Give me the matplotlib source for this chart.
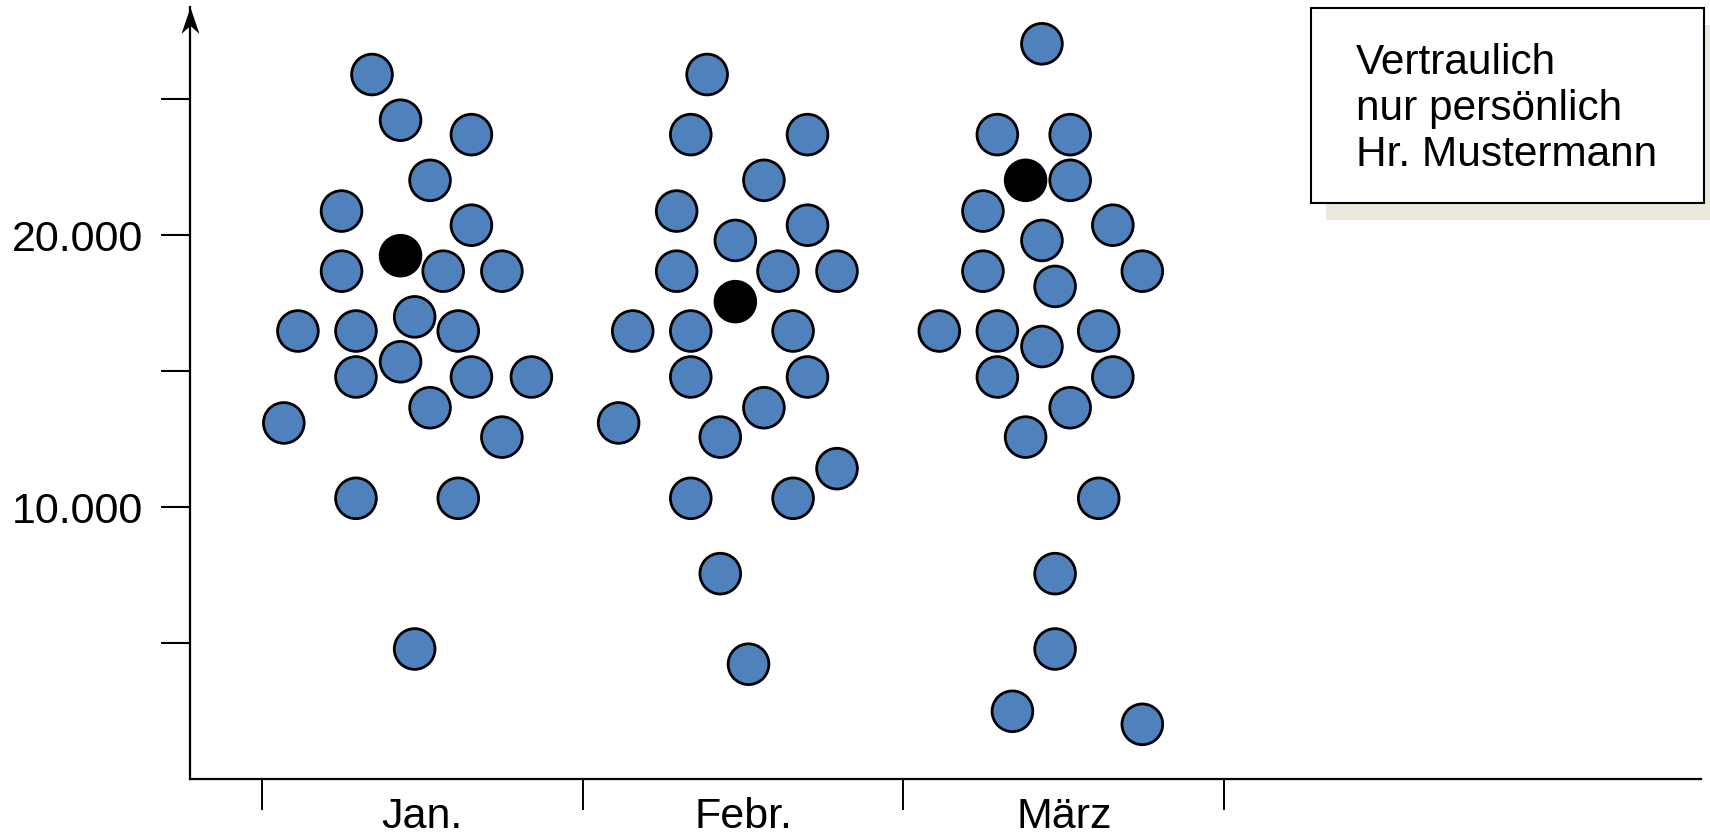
import matplotlib
matplotlib.use("Agg")
import matplotlib.pyplot as plt
from matplotlib.patches import Rectangle
from matplotlib.path import Path

plt.rcParams['font.family'] = ['Liberation Sans', 'DejaVu Sans']

months = ['Jan.', 'Febr.', 'März']

jan_values = [25900, 24220, 23690, 22010, 20880, 20360, 19240, 18670, 18670, 18670,
              16470, 16470, 16990, 16470, 15340, 14780, 14780, 14780, 13650, 13090,
              12570, 10320, 10320, 4780]
jan_offsets = [-0.157, -0.068, 0.153, 0.024, -0.252, 0.153, -0.068, -0.252, 0.065, 0.248,
               -0.388, -0.207, -0.024, 0.112, -0.068, -0.207, 0.153, 0.340, 0.024, -0.432,
               0.248, -0.207, 0.112, -0.024]
jan_highlight = 6

feb_values = [25900, 23690, 23690, 22010, 20880, 20360, 19800, 18670, 18670, 18670,
              17550, 16470, 16470, 16470, 14780, 14780, 13650, 13090, 12570, 11410,
              10320, 10320, 7550, 4220]
feb_offsets = [-0.112, -0.163, 0.201, 0.065, -0.207, 0.201, -0.024, -0.207, 0.109, 0.293,
               -0.024, -0.344, -0.163, 0.156, -0.163, 0.201, 0.065, -0.388, -0.071, 0.293,
               -0.163, 0.156, -0.071, 0.017]
feb_highlight = 10

mar_values = [27030, 23690, 23690, 22010, 22010, 20880, 20360, 19800, 18670, 18670,
              18110, 16470, 16470, 16470, 15900, 14780, 14780, 13650, 12570, 10320,
              7550, 4780, 2490, 2010]
mar_offsets = [-0.068, -0.207, 0.020, -0.119, 0.020, -0.252, 0.153, -0.068, -0.252, 0.245,
               -0.027, -0.388, -0.207, 0.109, -0.068, -0.207, 0.153, 0.020, -0.119, 0.109,
               -0.027, -0.027, -0.160, 0.245]
mar_highlight = 3

y_ticks = [5000, 10000, 15000, 20000, 25000]
y_ticklabels = ['', '10.000', '', '20.000', '']

note_lines = ['Vertraulich', 'nur persönlich', 'Hr. Mustermann']

BLUE = '#4f81bd'

fig = plt.figure(figsize=(17.10, 8.37), dpi=100)
W, H = 1710, 837
ax = fig.add_axes([190 / W, 1 - 780 / H, (1701 - 190) / W, (780 - 8) / H])

series = [(jan_values, jan_offsets, jan_highlight),
          (feb_values, feb_offsets, feb_highlight),
          (mar_values, mar_offsets, mar_highlight)]
for i, (vals, offs, hi) in enumerate(series):
    pos = i + 1
    xs = [pos + o for o in offs]
    colors = ['black' if k == hi else BLUE for k in range(len(vals))]
    ax.scatter(xs, vals, s=860, c=colors, edgecolors='black', linewidths=2.0,
               zorder=3, clip_on=False)

ax.set_xlim(0.5 - (262 - 190) / 320.7, 0.5 + (1701 - 262) / 320.7)
ax.set_ylim(0, 772 / 136 * 5000)

for side in ['top', 'right']:
    ax.spines[side].set_visible(False)
ax.spines['bottom'].set_linewidth(1.6)
ax.spines['left'].set_linewidth(1.6)

# arrow head (stealth shape) on top of the y-axis
head = Path([(0, 0), (-0.34, -1), (0, -0.7), (0.34, -1), (0, 0)],
            [Path.MOVETO, Path.LINETO, Path.LINETO, Path.LINETO, Path.CLOSEPOLY])
ax.plot([0], [1], transform=ax.transAxes, marker=head, markersize=38,
        color='black', markeredgewidth=0, clip_on=False, zorder=5)

ax.set_yticks(y_ticks)
ax.set_yticklabels(y_ticklabels)
ax.tick_params(axis='y', length=21, width=1.5, pad=13, labelsize=31)

ax.set_xticks([1, 2, 3])
ax.set_xticklabels(months)
ax.set_xticks([0.5, 1.5, 2.5, 3.5], minor=True)
ax.tick_params(axis='x', which='major', length=0, pad=12, labelsize=31)
ax.tick_params(axis='x', which='minor', length=22.5, width=1.4)

# note box with shadow
fig.patches.append(Rectangle((1326 / W, 1 - 221 / H), 393 / W, 195 / H,
                             transform=fig.transFigure, facecolor='#ebe8dc',
                             edgecolor='none', zorder=1))
fig.patches.append(Rectangle((1311 / W, 1 - 204 / H), 393 / W, 195 / H,
                             transform=fig.transFigure, facecolor='white',
                             edgecolor='black', linewidth=1.5, zorder=2))
fig.text(1356 / W, 1 - 166 / H, '\n'.join(note_lines), fontsize=30.5,
         ha='left', va='baseline', linespacing=1.19, zorder=3)

fig.savefig('out.png', dpi=100)
